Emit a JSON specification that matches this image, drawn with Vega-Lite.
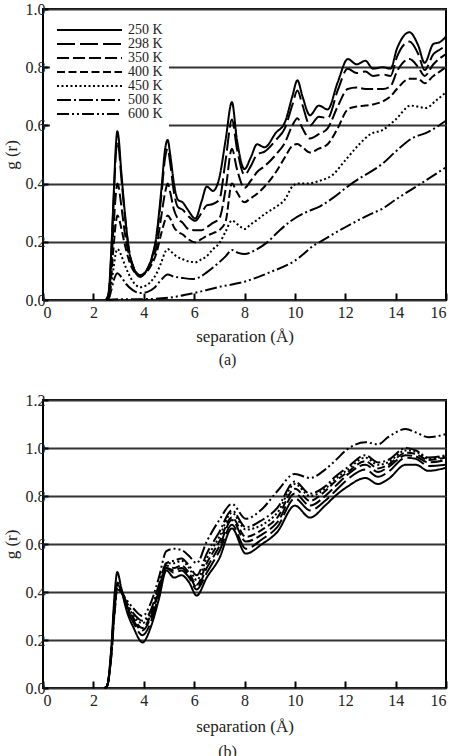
{
"$schema":"https://vega.github.io/schema/vega-lite/v6.json",
"background":"white",
"padding":{"left":1,"top":0,"right":5,"bottom":0},
"config":{
 "font":"Liberation Serif",
 "view":{"stroke":"black","strokeWidth":2},
 "axis":{"labelFont":"Liberation Serif","titleFont":"Liberation Serif","labelColor":"#222","titleColor":"#222","labelFontSize":16,"titleFontSize":17,"titleFontWeight":"normal","domain":false,"tickColor":"black","tickWidth":2},
 "title":{"font":"Liberation Serif","fontSize":16,"fontWeight":"normal","color":"#222"},
 "legend":{"labelFont":"Liberation Serif","labelFontSize":14,"labelColor":"#222"}
},
"datasets":{
"a":[
{"r":2.5,"T":"250 K","g":0},{"r":2.6,"T":"250 K","g":0.02},{"r":2.7,"T":"250 K","g":0.15},{"r":2.8,"T":"250 K","g":0.35},{"r":2.9,"T":"250 K","g":0.54},{"r":2.95,"T":"250 K","g":0.58},{"r":3.0,"T":"250 K","g":0.56},{"r":3.1,"T":"250 K","g":0.45},{"r":3.25,"T":"250 K","g":0.30},{"r":3.4,"T":"250 K","g":0.18},{"r":3.6,"T":"250 K","g":0.11},{"r":3.85,"T":"250 K","g":0.08},{"r":4.1,"T":"250 K","g":0.10},{"r":4.3,"T":"250 K","g":0.14},{"r":4.5,"T":"250 K","g":0.22},{"r":4.7,"T":"250 K","g":0.38},{"r":4.85,"T":"250 K","g":0.52},{"r":4.95,"T":"250 K","g":0.55},{"r":5.05,"T":"250 K","g":0.50},{"r":5.2,"T":"250 K","g":0.40},{"r":5.35,"T":"250 K","g":0.345},{"r":5.55,"T":"250 K","g":0.335},{"r":5.75,"T":"250 K","g":0.31},{"r":6.05,"T":"250 K","g":0.28},{"r":6.3,"T":"250 K","g":0.34},{"r":6.5,"T":"250 K","g":0.39},{"r":6.75,"T":"250 K","g":0.375},{"r":7.0,"T":"250 K","g":0.42},{"r":7.25,"T":"250 K","g":0.55},{"r":7.5,"T":"250 K","g":0.68},{"r":7.7,"T":"250 K","g":0.55},{"r":8.0,"T":"250 K","g":0.45},{"r":8.25,"T":"250 K","g":0.49},{"r":8.5,"T":"250 K","g":0.535},{"r":8.8,"T":"250 K","g":0.525},{"r":9.25,"T":"250 K","g":0.575},{"r":9.6,"T":"250 K","g":0.61},{"r":9.9,"T":"250 K","g":0.70},{"r":10.1,"T":"250 K","g":0.755},{"r":10.3,"T":"250 K","g":0.70},{"r":10.6,"T":"250 K","g":0.635},{"r":10.95,"T":"250 K","g":0.668},{"r":11.3,"T":"250 K","g":0.655},{"r":11.7,"T":"250 K","g":0.748},{"r":12.1,"T":"250 K","g":0.828},{"r":12.45,"T":"250 K","g":0.81},{"r":12.8,"T":"250 K","g":0.822},{"r":13.1,"T":"250 K","g":0.795},{"r":13.5,"T":"250 K","g":0.80},{"r":13.8,"T":"250 K","g":0.795},{"r":14.05,"T":"250 K","g":0.863},{"r":14.55,"T":"250 K","g":0.92},{"r":14.9,"T":"250 K","g":0.874},{"r":15.15,"T":"250 K","g":0.815},{"r":15.5,"T":"250 K","g":0.88},{"r":15.75,"T":"250 K","g":0.886},{"r":16,"T":"250 K","g":0.905},
{"r":2.5,"T":"298 K","g":0},{"r":2.6,"T":"298 K","g":0.02},{"r":2.7,"T":"298 K","g":0.14},{"r":2.8,"T":"298 K","g":0.33},{"r":2.9,"T":"298 K","g":0.51},{"r":2.95,"T":"298 K","g":0.545},{"r":3.0,"T":"298 K","g":0.53},{"r":3.1,"T":"298 K","g":0.43},{"r":3.25,"T":"298 K","g":0.29},{"r":3.4,"T":"298 K","g":0.18},{"r":3.6,"T":"298 K","g":0.11},{"r":3.85,"T":"298 K","g":0.08},{"r":4.1,"T":"298 K","g":0.10},{"r":4.3,"T":"298 K","g":0.14},{"r":4.5,"T":"298 K","g":0.21},{"r":4.7,"T":"298 K","g":0.36},{"r":4.85,"T":"298 K","g":0.49},{"r":4.95,"T":"298 K","g":0.52},{"r":5.05,"T":"298 K","g":0.47},{"r":5.2,"T":"298 K","g":0.37},{"r":5.35,"T":"298 K","g":0.32},{"r":5.55,"T":"298 K","g":0.31},{"r":5.75,"T":"298 K","g":0.29},{"r":6.05,"T":"298 K","g":0.272},{"r":6.3,"T":"298 K","g":0.30},{"r":6.5,"T":"298 K","g":0.325},{"r":6.75,"T":"298 K","g":0.33},{"r":7.0,"T":"298 K","g":0.345},{"r":7.25,"T":"298 K","g":0.48},{"r":7.5,"T":"298 K","g":0.62},{"r":7.7,"T":"298 K","g":0.52},{"r":8.0,"T":"298 K","g":0.43},{"r":8.25,"T":"298 K","g":0.46},{"r":8.5,"T":"298 K","g":0.50},{"r":8.8,"T":"298 K","g":0.51},{"r":9.25,"T":"298 K","g":0.55},{"r":9.6,"T":"298 K","g":0.59},{"r":9.9,"T":"298 K","g":0.67},{"r":10.1,"T":"298 K","g":0.72},{"r":10.3,"T":"298 K","g":0.67},{"r":10.6,"T":"298 K","g":0.60},{"r":10.95,"T":"298 K","g":0.63},{"r":11.3,"T":"298 K","g":0.625},{"r":11.7,"T":"298 K","g":0.72},{"r":12.1,"T":"298 K","g":0.795},{"r":12.45,"T":"298 K","g":0.78},{"r":12.8,"T":"298 K","g":0.785},{"r":13.1,"T":"298 K","g":0.77},{"r":13.5,"T":"298 K","g":0.775},{"r":13.8,"T":"298 K","g":0.77},{"r":14.05,"T":"298 K","g":0.835},{"r":14.55,"T":"298 K","g":0.888},{"r":14.9,"T":"298 K","g":0.845},{"r":15.15,"T":"298 K","g":0.79},{"r":15.5,"T":"298 K","g":0.845},{"r":15.75,"T":"298 K","g":0.86},{"r":16,"T":"298 K","g":0.875},
{"r":2.5,"T":"350 K","g":0},{"r":2.6,"T":"350 K","g":0.015},{"r":2.7,"T":"350 K","g":0.10},{"r":2.8,"T":"350 K","g":0.25},{"r":2.9,"T":"350 K","g":0.37},{"r":2.95,"T":"350 K","g":0.40},{"r":3.0,"T":"350 K","g":0.39},{"r":3.1,"T":"350 K","g":0.33},{"r":3.25,"T":"350 K","g":0.23},{"r":3.4,"T":"350 K","g":0.16},{"r":3.6,"T":"350 K","g":0.11},{"r":3.85,"T":"350 K","g":0.085},{"r":4.1,"T":"350 K","g":0.10},{"r":4.3,"T":"350 K","g":0.13},{"r":4.5,"T":"350 K","g":0.18},{"r":4.7,"T":"350 K","g":0.29},{"r":4.85,"T":"350 K","g":0.37},{"r":4.95,"T":"350 K","g":0.40},{"r":5.05,"T":"350 K","g":0.37},{"r":5.2,"T":"350 K","g":0.31},{"r":5.35,"T":"350 K","g":0.28},{"r":5.55,"T":"350 K","g":0.265},{"r":5.75,"T":"350 K","g":0.245},{"r":6.05,"T":"350 K","g":0.24},{"r":6.3,"T":"350 K","g":0.24},{"r":6.5,"T":"350 K","g":0.25},{"r":6.75,"T":"350 K","g":0.265},{"r":7.0,"T":"350 K","g":0.28},{"r":7.25,"T":"350 K","g":0.38},{"r":7.5,"T":"350 K","g":0.52},{"r":7.7,"T":"350 K","g":0.45},{"r":8.0,"T":"350 K","g":0.385},{"r":8.25,"T":"350 K","g":0.41},{"r":8.5,"T":"350 K","g":0.44},{"r":8.8,"T":"350 K","g":0.46},{"r":9.25,"T":"350 K","g":0.50},{"r":9.6,"T":"350 K","g":0.54},{"r":9.9,"T":"350 K","g":0.60},{"r":10.1,"T":"350 K","g":0.625},{"r":10.3,"T":"350 K","g":0.59},{"r":10.6,"T":"350 K","g":0.555},{"r":10.95,"T":"350 K","g":0.57},{"r":11.3,"T":"350 K","g":0.59},{"r":11.7,"T":"350 K","g":0.665},{"r":12.1,"T":"350 K","g":0.725},{"r":12.45,"T":"350 K","g":0.73},{"r":12.8,"T":"350 K","g":0.725},{"r":13.1,"T":"350 K","g":0.725},{"r":13.5,"T":"350 K","g":0.725},{"r":13.8,"T":"350 K","g":0.735},{"r":14.05,"T":"350 K","g":0.785},{"r":14.55,"T":"350 K","g":0.828},{"r":14.9,"T":"350 K","g":0.80},{"r":15.15,"T":"350 K","g":0.77},{"r":15.5,"T":"350 K","g":0.81},{"r":15.75,"T":"350 K","g":0.83},{"r":16,"T":"350 K","g":0.845},
{"r":2.5,"T":"400 K","g":0},{"r":2.6,"T":"400 K","g":0.01},{"r":2.7,"T":"400 K","g":0.07},{"r":2.8,"T":"400 K","g":0.18},{"r":2.9,"T":"400 K","g":0.27},{"r":2.95,"T":"400 K","g":0.29},{"r":3.0,"T":"400 K","g":0.285},{"r":3.1,"T":"400 K","g":0.25},{"r":3.25,"T":"400 K","g":0.19},{"r":3.4,"T":"400 K","g":0.14},{"r":3.6,"T":"400 K","g":0.10},{"r":3.85,"T":"400 K","g":0.085},{"r":4.1,"T":"400 K","g":0.095},{"r":4.3,"T":"400 K","g":0.12},{"r":4.5,"T":"400 K","g":0.16},{"r":4.7,"T":"400 K","g":0.23},{"r":4.85,"T":"400 K","g":0.275},{"r":4.95,"T":"400 K","g":0.29},{"r":5.05,"T":"400 K","g":0.28},{"r":5.2,"T":"400 K","g":0.25},{"r":5.35,"T":"400 K","g":0.235},{"r":5.55,"T":"400 K","g":0.225},{"r":5.75,"T":"400 K","g":0.21},{"r":6.05,"T":"400 K","g":0.198},{"r":6.3,"T":"400 K","g":0.21},{"r":6.5,"T":"400 K","g":0.22},{"r":6.75,"T":"400 K","g":0.23},{"r":7.0,"T":"400 K","g":0.24},{"r":7.25,"T":"400 K","g":0.27},{"r":7.5,"T":"400 K","g":0.40},{"r":7.7,"T":"400 K","g":0.37},{"r":8.0,"T":"400 K","g":0.336},{"r":8.25,"T":"400 K","g":0.35},{"r":8.5,"T":"400 K","g":0.365},{"r":8.8,"T":"400 K","g":0.39},{"r":9.25,"T":"400 K","g":0.44},{"r":9.6,"T":"400 K","g":0.49},{"r":9.9,"T":"400 K","g":0.53},{"r":10.1,"T":"400 K","g":0.536},{"r":10.3,"T":"400 K","g":0.525},{"r":10.6,"T":"400 K","g":0.507},{"r":10.95,"T":"400 K","g":0.52},{"r":11.3,"T":"400 K","g":0.535},{"r":11.7,"T":"400 K","g":0.59},{"r":12.1,"T":"400 K","g":0.655},{"r":12.45,"T":"400 K","g":0.665},{"r":12.8,"T":"400 K","g":0.668},{"r":13.1,"T":"400 K","g":0.672},{"r":13.5,"T":"400 K","g":0.683},{"r":13.8,"T":"400 K","g":0.70},{"r":14.05,"T":"400 K","g":0.725},{"r":14.55,"T":"400 K","g":0.76},{"r":14.9,"T":"400 K","g":0.76},{"r":15.15,"T":"400 K","g":0.745},{"r":15.5,"T":"400 K","g":0.77},{"r":15.75,"T":"400 K","g":0.785},{"r":16,"T":"400 K","g":0.80},
{"r":2.5,"T":"450 K","g":0},{"r":2.6,"T":"450 K","g":0.005},{"r":2.7,"T":"450 K","g":0.05},{"r":2.8,"T":"450 K","g":0.11},{"r":2.9,"T":"450 K","g":0.165},{"r":2.95,"T":"450 K","g":0.175},{"r":3.0,"T":"450 K","g":0.172},{"r":3.1,"T":"450 K","g":0.155},{"r":3.25,"T":"450 K","g":0.12},{"r":3.4,"T":"450 K","g":0.09},{"r":3.6,"T":"450 K","g":0.06},{"r":3.85,"T":"450 K","g":0.044},{"r":4.1,"T":"450 K","g":0.05},{"r":4.3,"T":"450 K","g":0.065},{"r":4.5,"T":"450 K","g":0.09},{"r":4.7,"T":"450 K","g":0.13},{"r":4.85,"T":"450 K","g":0.165},{"r":4.95,"T":"450 K","g":0.175},{"r":5.1,"T":"450 K","g":0.165},{"r":5.3,"T":"450 K","g":0.15},{"r":5.55,"T":"450 K","g":0.14},{"r":5.8,"T":"450 K","g":0.132},{"r":6.05,"T":"450 K","g":0.13},{"r":6.3,"T":"450 K","g":0.14},{"r":6.5,"T":"450 K","g":0.15},{"r":6.75,"T":"450 K","g":0.175},{"r":7.0,"T":"450 K","g":0.195},{"r":7.25,"T":"450 K","g":0.235},{"r":7.5,"T":"450 K","g":0.273},{"r":7.75,"T":"450 K","g":0.258},{"r":8.0,"T":"450 K","g":0.244},{"r":8.25,"T":"450 K","g":0.26},{"r":8.5,"T":"450 K","g":0.275},{"r":8.8,"T":"450 K","g":0.295},{"r":9.25,"T":"450 K","g":0.32},{"r":9.6,"T":"450 K","g":0.345},{"r":9.9,"T":"450 K","g":0.39},{"r":10.1,"T":"450 K","g":0.40},{"r":10.5,"T":"450 K","g":0.40},{"r":11.0,"T":"450 K","g":0.41},{"r":11.5,"T":"450 K","g":0.43},{"r":12.0,"T":"450 K","g":0.48},{"r":12.5,"T":"450 K","g":0.53},{"r":13.0,"T":"450 K","g":0.57},{"r":13.5,"T":"450 K","g":0.585},{"r":14.0,"T":"450 K","g":0.62},{"r":14.6,"T":"450 K","g":0.668},{"r":15.2,"T":"450 K","g":0.66},{"r":15.6,"T":"450 K","g":0.685},{"r":16,"T":"450 K","g":0.714},
{"r":2.5,"T":"500 K","g":0},{"r":2.6,"T":"500 K","g":0.003},{"r":2.7,"T":"500 K","g":0.03},{"r":2.8,"T":"500 K","g":0.065},{"r":2.95,"T":"500 K","g":0.092},{"r":3.1,"T":"500 K","g":0.08},{"r":3.3,"T":"500 K","g":0.055},{"r":3.55,"T":"500 K","g":0.035},{"r":3.85,"T":"500 K","g":0.024},{"r":4.15,"T":"500 K","g":0.028},{"r":4.4,"T":"500 K","g":0.04},{"r":4.65,"T":"500 K","g":0.065},{"r":4.95,"T":"500 K","g":0.088},{"r":5.2,"T":"500 K","g":0.08},{"r":5.45,"T":"500 K","g":0.077},{"r":5.95,"T":"500 K","g":0.072},{"r":6.25,"T":"500 K","g":0.08},{"r":6.5,"T":"500 K","g":0.095},{"r":7.0,"T":"500 K","g":0.13},{"r":7.25,"T":"500 K","g":0.15},{"r":7.5,"T":"500 K","g":0.172},{"r":7.75,"T":"500 K","g":0.162},{"r":8.0,"T":"500 K","g":0.158},{"r":8.5,"T":"500 K","g":0.175},{"r":8.9,"T":"500 K","g":0.198},{"r":9.4,"T":"500 K","g":0.24},{"r":9.9,"T":"500 K","g":0.275},{"r":10.4,"T":"500 K","g":0.30},{"r":11.0,"T":"500 K","g":0.322},{"r":11.5,"T":"500 K","g":0.35},{"r":12.1,"T":"500 K","g":0.39},{"r":12.6,"T":"500 K","g":0.42},{"r":13.0,"T":"500 K","g":0.44},{"r":13.5,"T":"500 K","g":0.47},{"r":14.0,"T":"500 K","g":0.51},{"r":14.6,"T":"500 K","g":0.553},{"r":15.3,"T":"500 K","g":0.578},{"r":16,"T":"500 K","g":0.616},
{"r":2.5,"T":"600 K","g":0},{"r":3.0,"T":"600 K","g":0.003},{"r":4.0,"T":"600 K","g":0.003},{"r":5.0,"T":"600 K","g":0.008},{"r":6.0,"T":"600 K","g":0.024},{"r":7.0,"T":"600 K","g":0.045},{"r":8.0,"T":"600 K","g":0.063},{"r":9.0,"T":"600 K","g":0.095},{"r":10.0,"T":"600 K","g":0.135},{"r":10.8,"T":"600 K","g":0.19},{"r":11.0,"T":"600 K","g":0.2},{"r":12.0,"T":"600 K","g":0.25},{"r":13.0,"T":"600 K","g":0.295},{"r":13.5,"T":"600 K","g":0.315},{"r":14.0,"T":"600 K","g":0.345},{"r":15.0,"T":"600 K","g":0.40},{"r":16,"T":"600 K","g":0.456}
],
"b":[
{"r":2.45,"T":"250 K","g":0},{"r":2.55,"T":"250 K","g":0.01},{"r":2.7,"T":"250 K","g":0.15},{"r":2.85,"T":"250 K","g":0.40},{"r":2.95,"T":"250 K","g":0.483},{"r":3.1,"T":"250 K","g":0.42},{"r":3.3,"T":"250 K","g":0.33},{"r":3.6,"T":"250 K","g":0.25},{"r":3.95,"T":"250 K","g":0.19},{"r":4.3,"T":"250 K","g":0.26},{"r":4.6,"T":"250 K","g":0.37},{"r":4.9,"T":"250 K","g":0.49},{"r":5.2,"T":"250 K","g":0.46},{"r":5.5,"T":"250 K","g":0.47},{"r":5.8,"T":"250 K","g":0.44},{"r":6.1,"T":"250 K","g":0.385},{"r":6.5,"T":"250 K","g":0.46},{"r":7.0,"T":"250 K","g":0.54},{"r":7.5,"T":"250 K","g":0.665},{"r":8.05,"T":"250 K","g":0.56},{"r":8.7,"T":"250 K","g":0.60},{"r":9.3,"T":"250 K","g":0.65},{"r":10.0,"T":"250 K","g":0.76},{"r":10.6,"T":"250 K","g":0.71},{"r":11.2,"T":"250 K","g":0.76},{"r":11.6,"T":"250 K","g":0.80},{"r":12.1,"T":"250 K","g":0.84},{"r":12.8,"T":"250 K","g":0.875},{"r":13.3,"T":"250 K","g":0.85},{"r":13.7,"T":"250 K","g":0.87},{"r":14.4,"T":"250 K","g":0.93},{"r":14.8,"T":"250 K","g":0.93},{"r":15.3,"T":"250 K","g":0.905},{"r":16,"T":"250 K","g":0.918},
{"r":2.45,"T":"298 K","g":0},{"r":2.55,"T":"298 K","g":0.01},{"r":2.7,"T":"298 K","g":0.14},{"r":2.85,"T":"298 K","g":0.37},{"r":2.95,"T":"298 K","g":0.44},{"r":3.1,"T":"298 K","g":0.41},{"r":3.3,"T":"298 K","g":0.34},{"r":3.6,"T":"298 K","g":0.27},{"r":3.95,"T":"298 K","g":0.22},{"r":4.3,"T":"298 K","g":0.28},{"r":4.6,"T":"298 K","g":0.39},{"r":4.9,"T":"298 K","g":0.50},{"r":5.2,"T":"298 K","g":0.48},{"r":5.5,"T":"298 K","g":0.49},{"r":5.8,"T":"298 K","g":0.46},{"r":6.1,"T":"298 K","g":0.41},{"r":6.5,"T":"298 K","g":0.48},{"r":7.0,"T":"298 K","g":0.57},{"r":7.5,"T":"298 K","g":0.68},{"r":8.05,"T":"298 K","g":0.58},{"r":8.7,"T":"298 K","g":0.62},{"r":9.3,"T":"298 K","g":0.67},{"r":10.0,"T":"298 K","g":0.79},{"r":10.6,"T":"298 K","g":0.74},{"r":11.2,"T":"298 K","g":0.78},{"r":11.6,"T":"298 K","g":0.82},{"r":12.1,"T":"298 K","g":0.87},{"r":12.8,"T":"298 K","g":0.91},{"r":13.3,"T":"298 K","g":0.88},{"r":13.7,"T":"298 K","g":0.90},{"r":14.4,"T":"298 K","g":0.96},{"r":14.8,"T":"298 K","g":0.955},{"r":15.3,"T":"298 K","g":0.925},{"r":16,"T":"298 K","g":0.93},
{"r":2.45,"T":"350 K","g":0},{"r":2.55,"T":"350 K","g":0.01},{"r":2.7,"T":"350 K","g":0.14},{"r":2.85,"T":"350 K","g":0.36},{"r":2.95,"T":"350 K","g":0.435},{"r":3.1,"T":"350 K","g":0.41},{"r":3.3,"T":"350 K","g":0.35},{"r":3.6,"T":"350 K","g":0.28},{"r":3.95,"T":"350 K","g":0.24},{"r":4.3,"T":"350 K","g":0.30},{"r":4.6,"T":"350 K","g":0.40},{"r":4.9,"T":"350 K","g":0.50},{"r":5.2,"T":"350 K","g":0.49},{"r":5.5,"T":"350 K","g":0.50},{"r":5.8,"T":"350 K","g":0.47},{"r":6.1,"T":"350 K","g":0.42},{"r":6.5,"T":"350 K","g":0.50},{"r":7.0,"T":"350 K","g":0.59},{"r":7.5,"T":"350 K","g":0.70},{"r":8.05,"T":"350 K","g":0.61},{"r":8.7,"T":"350 K","g":0.64},{"r":9.3,"T":"350 K","g":0.69},{"r":10.0,"T":"350 K","g":0.81},{"r":10.6,"T":"350 K","g":0.76},{"r":11.2,"T":"350 K","g":0.80},{"r":11.6,"T":"350 K","g":0.84},{"r":12.1,"T":"350 K","g":0.89},{"r":12.8,"T":"350 K","g":0.93},{"r":13.3,"T":"350 K","g":0.90},{"r":13.7,"T":"350 K","g":0.92},{"r":14.4,"T":"350 K","g":0.97},{"r":14.8,"T":"350 K","g":0.965},{"r":15.3,"T":"350 K","g":0.94},{"r":16,"T":"350 K","g":0.95},
{"r":2.45,"T":"400 K","g":0},{"r":2.55,"T":"400 K","g":0.01},{"r":2.7,"T":"400 K","g":0.13},{"r":2.85,"T":"400 K","g":0.35},{"r":2.95,"T":"400 K","g":0.43},{"r":3.1,"T":"400 K","g":0.41},{"r":3.3,"T":"400 K","g":0.35},{"r":3.6,"T":"400 K","g":0.29},{"r":3.95,"T":"400 K","g":0.25},{"r":4.3,"T":"400 K","g":0.31},{"r":4.6,"T":"400 K","g":0.41},{"r":4.9,"T":"400 K","g":0.51},{"r":5.2,"T":"400 K","g":0.50},{"r":5.5,"T":"400 K","g":0.51},{"r":5.8,"T":"400 K","g":0.48},{"r":6.1,"T":"400 K","g":0.43},{"r":6.5,"T":"400 K","g":0.52},{"r":7.0,"T":"400 K","g":0.61},{"r":7.5,"T":"400 K","g":0.71},{"r":8.05,"T":"400 K","g":0.63},{"r":8.7,"T":"400 K","g":0.66},{"r":9.3,"T":"400 K","g":0.71},{"r":10.0,"T":"400 K","g":0.83},{"r":10.6,"T":"400 K","g":0.78},{"r":11.2,"T":"400 K","g":0.82},{"r":11.6,"T":"400 K","g":0.86},{"r":12.1,"T":"400 K","g":0.90},{"r":12.8,"T":"400 K","g":0.945},{"r":13.3,"T":"400 K","g":0.915},{"r":13.7,"T":"400 K","g":0.93},{"r":14.4,"T":"400 K","g":0.98},{"r":14.8,"T":"400 K","g":0.975},{"r":15.3,"T":"400 K","g":0.95},{"r":16,"T":"400 K","g":0.96},
{"r":2.45,"T":"450 K","g":0},{"r":2.55,"T":"450 K","g":0.01},{"r":2.7,"T":"450 K","g":0.13},{"r":2.85,"T":"450 K","g":0.34},{"r":2.95,"T":"450 K","g":0.43},{"r":3.1,"T":"450 K","g":0.41},{"r":3.3,"T":"450 K","g":0.36},{"r":3.6,"T":"450 K","g":0.30},{"r":3.95,"T":"450 K","g":0.27},{"r":4.3,"T":"450 K","g":0.32},{"r":4.6,"T":"450 K","g":0.42},{"r":4.9,"T":"450 K","g":0.52},{"r":5.2,"T":"450 K","g":0.52},{"r":5.5,"T":"450 K","g":0.53},{"r":5.8,"T":"450 K","g":0.50},{"r":6.1,"T":"450 K","g":0.45},{"r":6.5,"T":"450 K","g":0.54},{"r":7.0,"T":"450 K","g":0.63},{"r":7.5,"T":"450 K","g":0.73},{"r":8.05,"T":"450 K","g":0.66},{"r":8.7,"T":"450 K","g":0.68},{"r":9.3,"T":"450 K","g":0.73},{"r":10.0,"T":"450 K","g":0.85},{"r":10.6,"T":"450 K","g":0.80},{"r":11.2,"T":"450 K","g":0.83},{"r":11.6,"T":"450 K","g":0.87},{"r":12.1,"T":"450 K","g":0.91},{"r":12.8,"T":"450 K","g":0.96},{"r":13.3,"T":"450 K","g":0.93},{"r":13.7,"T":"450 K","g":0.94},{"r":14.4,"T":"450 K","g":0.99},{"r":14.8,"T":"450 K","g":0.985},{"r":15.3,"T":"450 K","g":0.955},{"r":16,"T":"450 K","g":0.965},
{"r":2.45,"T":"500 K","g":0},{"r":2.55,"T":"500 K","g":0.01},{"r":2.7,"T":"500 K","g":0.12},{"r":2.85,"T":"500 K","g":0.33},{"r":2.95,"T":"500 K","g":0.42},{"r":3.1,"T":"500 K","g":0.40},{"r":3.3,"T":"500 K","g":0.36},{"r":3.6,"T":"500 K","g":0.31},{"r":3.95,"T":"500 K","g":0.28},{"r":4.3,"T":"500 K","g":0.33},{"r":4.6,"T":"500 K","g":0.43},{"r":4.9,"T":"500 K","g":0.52},{"r":5.2,"T":"500 K","g":0.53},{"r":5.5,"T":"500 K","g":0.54},{"r":5.8,"T":"500 K","g":0.51},{"r":6.1,"T":"500 K","g":0.47},{"r":6.5,"T":"500 K","g":0.56},{"r":7.0,"T":"500 K","g":0.65},{"r":7.5,"T":"500 K","g":0.74},{"r":8.05,"T":"500 K","g":0.67},{"r":8.7,"T":"500 K","g":0.70},{"r":9.3,"T":"500 K","g":0.75},{"r":10.0,"T":"500 K","g":0.86},{"r":10.6,"T":"500 K","g":0.81},{"r":11.2,"T":"500 K","g":0.84},{"r":11.6,"T":"500 K","g":0.88},{"r":12.1,"T":"500 K","g":0.92},{"r":12.8,"T":"500 K","g":0.97},{"r":13.3,"T":"500 K","g":0.94},{"r":13.7,"T":"500 K","g":0.95},{"r":14.4,"T":"500 K","g":1.0},{"r":14.8,"T":"500 K","g":0.99},{"r":15.3,"T":"500 K","g":0.96},{"r":16,"T":"500 K","g":0.97},
{"r":2.45,"T":"600 K","g":0},{"r":2.55,"T":"600 K","g":0.01},{"r":2.7,"T":"600 K","g":0.12},{"r":2.85,"T":"600 K","g":0.32},{"r":2.95,"T":"600 K","g":0.41},{"r":3.1,"T":"600 K","g":0.40},{"r":3.3,"T":"600 K","g":0.37},{"r":3.6,"T":"600 K","g":0.33},{"r":3.95,"T":"600 K","g":0.30},{"r":4.3,"T":"600 K","g":0.36},{"r":4.6,"T":"600 K","g":0.46},{"r":4.9,"T":"600 K","g":0.57},{"r":5.2,"T":"600 K","g":0.58},{"r":5.5,"T":"600 K","g":0.575},{"r":5.8,"T":"600 K","g":0.55},{"r":6.1,"T":"600 K","g":0.52},{"r":6.5,"T":"600 K","g":0.61},{"r":7.0,"T":"600 K","g":0.70},{"r":7.5,"T":"600 K","g":0.767},{"r":8.05,"T":"600 K","g":0.705},{"r":8.7,"T":"600 K","g":0.746},{"r":9.3,"T":"600 K","g":0.82},{"r":10.0,"T":"600 K","g":0.892},{"r":10.6,"T":"600 K","g":0.875},{"r":11.2,"T":"600 K","g":0.91},{"r":11.6,"T":"600 K","g":0.947},{"r":12.1,"T":"600 K","g":0.996},{"r":12.8,"T":"600 K","g":1.024},{"r":13.3,"T":"600 K","g":1.015},{"r":13.7,"T":"600 K","g":1.045},{"r":14.4,"T":"600 K","g":1.079},{"r":14.8,"T":"600 K","g":1.065},{"r":15.3,"T":"600 K","g":1.045},{"r":16,"T":"600 K","g":1.058}
]
},
"spacing":100,
"bounds":"flush",
"resolve":{"legend":{"strokeDash":"independent"}},
"vconcat":[
{
 "width":403,"height":291,
 "title":{"text":"(a)","orient":"bottom","offset":8,"anchor":"middle","dx":-17},
 "data":{"name":"a"},
 "mark":{"type":"line","color":"black","strokeWidth":2,"interpolate":"monotone"},
 "encoding":{
  "x":{"field":"r","type":"quantitative","scale":{"domain":[0,16],"nice":false},
   "axis":{"values":[0,2,4,6,8,10,12,14,16],"format":"d","title":"separation (Å)","tickSize":-7,"labelPadding":11,"titlePadding":8,"grid":false}},
  "y":{"field":"g","type":"quantitative","scale":{"domain":[0,1],"nice":false},
   "axis":{"values":[0,0.2,0.4,0.6,0.8,1.0],"format":".1f","title":"g (r)","tickSize":-5,"labelPadding":3,"titlePadding":5,"grid":true,"gridColor":"#333","gridWidth":2,"gridOpacity":1}},
  "strokeDash":{"field":"T","type":"nominal",
   "scale":{"domain":["250 K","298 K","350 K","400 K","450 K","500 K","600 K"],"range":[[1,0],[18,5],[12,4],[8,3.5],[2,2.5],[14,3,2,3],[12,3,2,3,2,3]]},
   "legend":{"orient":"none","legendX":7,"legendY":8,"title":null,"fillColor":"white","padding":6,"symbolType":"stroke","symbolSize":4225,"symbolStrokeWidth":2,"symbolStrokeColor":"black","labelOffset":5,"rowPadding":0,"clipHeight":14,"labelExpr":"datum.label + '\u00a0\u00a0\u00a0\u00a0\u00a0'"}}
 }
},
{
 "width":403,"height":288,
 "title":{"text":"(b)","orient":"bottom","offset":10,"anchor":"middle","dx":-17},
 "data":{"name":"b"},
 "mark":{"type":"line","color":"black","strokeWidth":2,"interpolate":"monotone"},
 "encoding":{
  "x":{"field":"r","type":"quantitative","scale":{"domain":[0,16],"nice":false},
   "axis":{"values":[0,2,4,6,8,10,12,14,16],"format":"d","title":"separation (Å)","tickSize":-7,"labelPadding":11,"titlePadding":10,"grid":false}},
  "y":{"field":"g","type":"quantitative","scale":{"domain":[0,1.2],"nice":false},
   "axis":{"values":[0,0.2,0.4,0.6,0.8,1.0,1.2],"format":".1f","title":"g (r)","tickSize":-5,"labelPadding":3,"titlePadding":5,"grid":true,"gridColor":"#333","gridWidth":2,"gridOpacity":1}},
  "strokeDash":{"field":"T","type":"nominal",
   "scale":{"domain":["250 K","298 K","350 K","400 K","450 K","500 K","600 K"],"range":[[1,0],[18,5],[12,4],[8,3.5],[2,2.5],[14,3,2,3],[12,3,2,3,2,3]]},
   "legend":null}
 }
}
]
}
